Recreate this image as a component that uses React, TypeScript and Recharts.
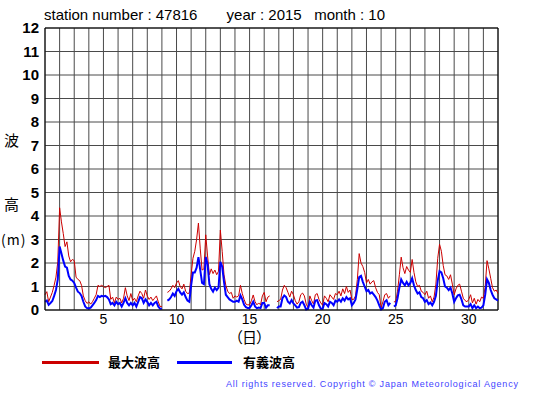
import { CartesianGrid, Line, LineChart, ReferenceLine, XAxis, YAxis } from "recharts";

// 3-hourly readings, October 2015, station 47816 (8 per day + 1st Nov 00h)
const maxWave: (number | null)[] = [
  0.65, 0.78, 0.35, 0.55, 0.75, 1.05, 1.4, 2.05,
  4.35, 3.75, 3.25, 2.7, 2.9, 2.3, 2.05, 2.15,
  2.1, 1.4, 1.3, 1.25, 1.05, 0.6, 0.4, 0.28,
  0.35, 0.25, 0.35, 0.5, 0.65, 1.05, 1.0, 1.05,
  1.0, 0.95, 1.0, 1.05, 0.45, 0.55, 0.3, 0.55,
  0.45, 0.5, 0.3, 0.5, 0.95, 0.6, 0.4, 0.7,
  0.4, 0.5, 0.35, 0.6, 0.8, 0.7, 0.5, 0.85,
  0.6, 0.45, 0.55, 0.4, 0.5, 0.6, 0.35, 0.15,
  0.15, null, null, 0.75, 0.8, 0.9, 1.05, 0.95,
  1.15, 1.25, 1.0, 0.9, 1.1, 0.8, 0.7, 0.72,
  1.5, 2.2, 2.5, 3.0, 3.7, 2.6, 1.7, 1.75,
  3.2, 2.3, 1.5, 1.75, 1.55, 1.7, 1.5, 1.65,
  3.4, 2.5, 1.5, 1.05, 0.8, 0.7, 0.75, 0.5,
  0.6, 0.55, 0.6, 1.05, 0.7, 0.45, 0.25, 0.22,
  0.22, 0.4, 0.64, 0.35, 0.22, 0.3, 0.22, 0.6,
  0.75, 0.35, 0.55, 0.6, null, null, null, 0.35,
  0.4, 0.45, 0.85, 1.05, 0.95, 0.75, 0.55, 0.8,
  0.65, 0.4, 0.25, 0.35, 0.65, 0.72, 0.6, 0.25,
  0.1, 0.6, 0.4, 0.25, 0.65, 0.7, 0.45, 0.3,
  0.2, 0.6, 0.5, 0.35, 0.65, 0.55, 0.45, 0.7,
  0.65, 0.8, 0.6, 0.9, 0.7, 1.0, 0.75, 0.85,
  0.45, 0.45, 0.6, 1.3, 2.4, 2.0, 1.85, 1.6,
  1.15, 1.3, 1.1, 1.2, 1.25, 0.95, 0.75, 0.65,
  0.1, 0.35, 0.65, 0.7, 0.5, 0.6, null, 0.35,
  0.35, 0.8, 1.5, 2.25, 1.8, 1.55, 1.85, 1.7,
  1.6, 2.15, 1.6, 1.2, 1.0, 1.05, 0.8, 0.75,
  0.65, 0.8, 0.5, 0.6, 0.35, 0.55, 1.1, 2.2,
  2.8, 2.5, 1.9, 1.5, 1.45, 1.3, 1.5, 1.1,
  0.65, 0.9, 1.05, 1.1, 0.8, 0.5, 0.4, 0.35,
  0.45, 0.65, 0.3, 0.5, 0.25, 0.45, 0.35, 0.55,
  0.5, 1.0, 2.1, 1.75, 1.35, 0.95, 0.8, 0.85,
  0.7,
];

const sigWave: (number | null)[] = [
  0.35, 0.4, 0.22, 0.3, 0.38, 0.6, 0.85, 1.3,
  2.7, 2.4, 2.1, 1.85, 1.8, 1.45, 1.3, 1.25,
  1.15, 0.95, 0.78, 0.72, 0.6, 0.35, 0.15, 0.08,
  0.07, 0.1, 0.2, 0.3, 0.42, 0.6, 0.55, 0.6,
  0.58, 0.6, 0.55, 0.45, 0.25, 0.3, 0.2, 0.35,
  0.25, 0.3, 0.15, 0.3, 0.5, 0.3, 0.2, 0.3,
  0.2, 0.3, 0.15, 0.35, 0.55, 0.5, 0.3, 0.45,
  0.35, 0.2, 0.3, 0.2, 0.3, 0.35, 0.15, 0.05,
  0.05, null, null, 0.4, 0.45, 0.55, 0.7, 0.6,
  0.8, 0.9, 0.75, 0.65, 0.75, 0.55, 0.4, 0.35,
  1.05, 1.6, 1.6, 1.8, 2.25, 1.7, 1.15, 1.1,
  2.25, 1.95, 1.1, 0.9, 0.78, 0.95, 0.85, 0.95,
  2.05, 1.85, 1.2, 0.65, 0.55, 0.45, 0.4, 0.35,
  0.35, 0.4, 0.35, 0.62, 0.45, 0.22, 0.12, 0.08,
  0.08, 0.2, 0.35, 0.15, 0.08, 0.1, 0.08, 0.3,
  0.3, 0.1, 0.2, 0.2, null, null, null, 0.08,
  0.15, 0.15, 0.5, 0.62, 0.55, 0.35, 0.28, 0.42,
  0.28, 0.2, 0.1, 0.12, 0.3, 0.35, 0.2, 0.02,
  0.05, 0.35, 0.2, 0.1, 0.4, 0.42, 0.2, 0.05,
  0.05, 0.3, 0.25, 0.15, 0.35, 0.3, 0.2, 0.4,
  0.35, 0.45, 0.35, 0.5, 0.4, 0.55, 0.45, 0.5,
  0.2, 0.3, 0.45, 0.9, 1.4, 1.45, 1.2, 1.0,
  0.8, 0.85, 0.7, 0.75, 0.65, 0.55, 0.4, 0.2,
  0.02, 0.08, 0.35, 0.42, 0.2, 0.3, null, 0.15,
  0.2, 0.5, 0.95, 1.3, 1.15, 1.05, 1.2, 1.05,
  1.15, 1.35, 1.05, 0.85, 0.7, 0.75, 0.55, 0.5,
  0.35, 0.42, 0.25, 0.32, 0.2, 0.35, 0.6, 1.25,
  1.65, 1.6, 1.35, 1.0, 0.95, 0.85, 0.95, 0.7,
  0.35, 0.5, 0.62, 0.65, 0.45, 0.2, 0.15, 0.15,
  0.15, 0.25, 0.08, 0.2, 0.08, 0.15, 0.08, 0.1,
  0.2, 0.65, 1.3, 1.15, 0.85, 0.65, 0.5, 0.45,
  0.4,
];

const dayTicks = Array.from({ length: 32 }, (_, i) => i + 1);
const heightTicks = Array.from({ length: 13 }, (_, i) => i);

const data = maxWave.map((v, i) => ({ day: 1 + i / 8, max: v, sig: sigWave[i] }));

const sans = "'Liberation Sans', Arial, sans-serif";
const cjk = "'Noto Sans CJK JP', sans-serif";

export default function App() {
  return (
    <div style={{ position: "absolute", left: 0, top: 0, width: 555, height: 395, background: "#fff", fontFamily: sans, overflow: "hidden" }}>
      <LineChart width={555} height={395} data={data} margin={{ top: 28, right: 57, bottom: 55, left: 0 }}>
        <CartesianGrid stroke="#4a4a4a" strokeWidth={1} />
        <XAxis
          dataKey="day"
          type="number"
          domain={[1, 32]}
          ticks={dayTicks}
          tickFormatter={(d: number) => (d % 5 === 0 ? String(d) : "")}
          height={30}
          tickSize={0}
          tickMargin={4}
          axisLine={{ stroke: "#000" }}
          tick={{ fill: "#000", fontSize: 14, fontFamily: sans }}
          interval={0}
        />
        <YAxis
          type="number"
          domain={[0, 12]}
          ticks={heightTicks}
          width={45}
          tickSize={0}
          tickMargin={6}
          axisLine={{ stroke: "#000" }}
          tick={{ fill: "#000", fontSize: 15, fontWeight: "bold", fontFamily: sans }}
          interval={0}
        />
        <ReferenceLine y={12} stroke="#000" />
        <ReferenceLine x={32} stroke="#000" />
        <Line type="linear" dataKey="max" stroke="#cc0000" strokeWidth={1} dot={false} isAnimationActive={false} />
        <Line type="linear" dataKey="sig" stroke="#0000ff" strokeWidth={2} dot={false} isAnimationActive={false} />
      </LineChart>

      <div style={{ position: "absolute", left: 44, top: 6, fontSize: 15, whiteSpace: "pre", color: "#000" }}>
        {"station number : 47816       year : 2015   month : 10"}
      </div>
      <div style={{ position: "absolute", left: 4, top: 129, fontSize: 15, fontFamily: cjk }}>波</div>
      <div style={{ position: "absolute", left: 4, top: 193, fontSize: 15, fontFamily: cjk }}>高</div>
      <div style={{ position: "absolute", left: 1, top: 229, fontSize: 14, fontFamily: cjk, letterSpacing: 1 }}>(m)</div>
      <div style={{ position: "absolute", left: 228, top: 326, fontSize: 15, fontFamily: cjk, letterSpacing: -1 }}>（日）</div>

      <div style={{ position: "absolute", left: 42, top: 361, width: 57, height: 3, background: "#cc0000" }} />
      <div style={{ position: "absolute", left: 108, top: 352, fontSize: 13, fontWeight: "bold", fontFamily: cjk }}>最大波高</div>
      <div style={{ position: "absolute", left: 177, top: 361, width: 55, height: 3, background: "#0000ff" }} />
      <div style={{ position: "absolute", left: 243, top: 352, fontSize: 13, fontWeight: "bold", fontFamily: cjk }}>有義波高</div>

      <div style={{ position: "absolute", left: 226, top: 379, fontSize: 9, letterSpacing: 0.8, color: "#4444ff", whiteSpace: "nowrap" }}>
        All rights reserved. Copyright © Japan Meteorological Agency
      </div>
    </div>
  );
}
